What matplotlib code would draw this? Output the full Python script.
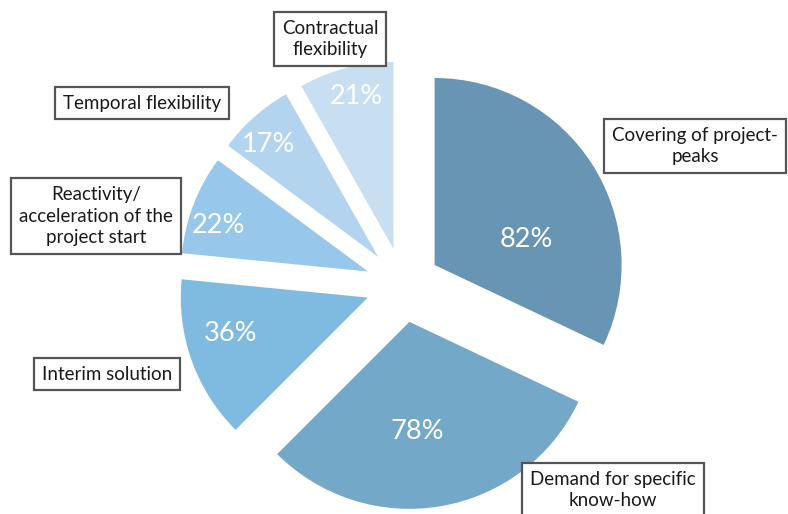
import matplotlib.pyplot as plt
import numpy as np

# Data (clockwise from the top)
categories = ["Covering of project-\npeaks", "Demand for specific\nknow-how", "Interim solution",
              "Reactivity/\nacceleration of the\nproject start", "Temporal flexibility",
              "Contractual\nflexibility"]
values = [82, 78, 36, 22, 17, 21]
colors = ["#6895b4", "#74a8c9", "#7fbae0", "#97c7ea", "#b3d4ee", "#c8dff2"]

# layout: where each percentage sits inside its wedge (radius fraction, angle shift in degrees)
pct_pos = [(0.51, -17), (0.59, -6), (0.76, -5), (0.84, 4), (0.84, 3), (0.84, -1)]
# label box centres in pixels (x, y from the top)
label_pos = [(695, 146), (613, 490), (107, 374), (96, 216), (142, 103), (330, 39)]

plt.rcParams['font.family'] = ['Lato', 'DejaVu Sans']

W, H = 788, 514
fig = plt.figure(figsize=(W / 100, H / 100), dpi=100)
ax = fig.add_axes([0, 0, 1, 1])

center = (403, H - 285)
radius = 187
# explode in pie is absolute, so scale it by the radius
wedges, _ = ax.pie(values, colors=colors, startangle=90, counterclock=False,
                   explode=[0.2 * radius] * len(values), radius=radius, center=center,
                   wedgeprops=dict(linewidth=0))

for w, v, (frac, shift) in zip(wedges, values, pct_pos):
    mid = np.deg2rad((w.theta1 + w.theta2) / 2 + shift)
    cx, cy = w.center
    ax.text(cx + frac * w.r * np.cos(mid), cy + frac * w.r * np.sin(mid), f"{v}%",
            ha='center', va='center', color='white', fontsize=19.5)

for lab, (x, y) in zip(categories, label_pos):
    ax.text(x, H - y, lab, ha='center', va='center', fontsize=13.5, color='#1a1a1a',
            linespacing=1.3,
            bbox=dict(boxstyle='square,pad=0.42', fc='white', ec='#555555', lw=1.6))

ax.set_xlim(0, W)
ax.set_ylim(0, H)
ax.set_aspect('equal')
ax.axis('off')

fig.savefig("out.png", dpi=100)
